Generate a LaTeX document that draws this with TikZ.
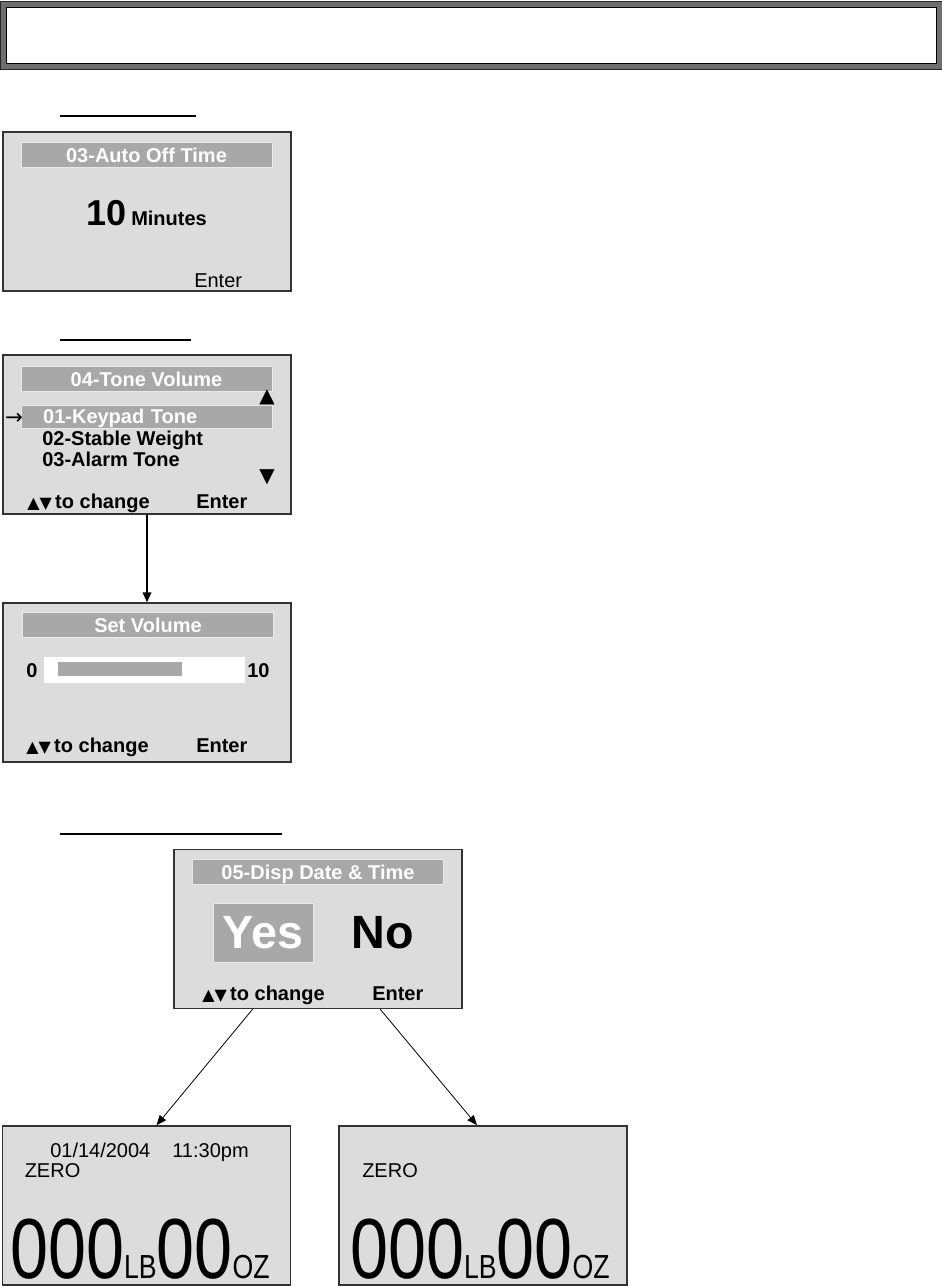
\documentclass[tikz,border=0pt]{standalone}
\usepackage{fontspec}
\setmainfont{Liberation Sans}
\newfontfamily\lcdfont[FakeStretch=0.8]{Liberation Sans}
\newfontfamily\trifont{DejaVu Sans}
\usetikzlibrary{positioning,arrows.meta,calc}
\definecolor{lcd}{HTML}{DCDCDC}
\definecolor{bar}{HTML}{A8A8A8}
\definecolor{frame}{HTML}{333333}
\definecolor{band}{HTML}{6E6E6E}
\newcommand{\updown}{{\trifont\fontsize{12pt}{12pt}\selectfont ▲▼}\hspace{2.5pt}}
\newcommand{\unitsize}{\fontsize{25pt}{25pt}\selectfont}
\tikzset{
  band/.style={rectangle, draw=black!85, line width=0.8pt, fill=band, inner sep=0pt},
  bandin/.style={rectangle, draw=black, line width=0.8pt, fill=white, inner sep=0pt},
  heading/.style={line width=1.1pt, draw=black},
  screen/.style={rectangle, draw=frame, line width=1.1pt, fill=lcd,
                 minimum width=216pt, minimum height=119.25pt, inner sep=0pt},
  titlebar/.style={rectangle, fill=bar, draw=white!75!bar, line width=0.6pt,
                   minimum width=188.25pt, minimum height=18.75pt, inner sep=0pt,
                   text=white, font=\bfseries\fontsize{15pt}{18pt}\selectfont,
                   text height=10.7pt, text depth=0pt},
  selbar/.style={titlebar, minimum height=17.25pt, text width=155pt,
                 align=left, inner xsep=16.5pt},
  item/.style={anchor=base west, inner sep=0pt, font=\bfseries\fontsize{15pt}{18pt}\selectfont},
  plain/.style={anchor=base west, inner sep=0pt, font=\fontsize{15pt}{18pt}\selectfont},
  glyph/.style={inner sep=0pt, font=\trifont\fontsize{15pt}{15pt}\selectfont},
  readout/.style={anchor=base west, inner sep=0pt, font=\lcdfont\fontsize{64pt}{64pt}\selectfont},
  flow/.style={-{Triangle[length=7.5pt,width=6.5pt]}, line width=1.1pt, draw=black},
  thinflow/.style={-{Triangle[length=7.5pt,width=6pt]}, line width=0.6pt, draw=black}
}
\begin{document}
\begin{tikzpicture}[x=0.75pt, y=-0.75pt]
\useasboundingbox (0,0) rectangle (942,1286);

\node[band, minimum width=706.5pt, minimum height=51pt, anchor=north west] (banner) at (0,1) {};
\node[bandin, minimum width=697.5pt, minimum height=42pt] (bannerin) at (banner.center) {};

\draw[heading] (60,116) -- (196,116);
\node[screen] (autooff) at (147,211.5) {};
\node[titlebar] (autotitle) at (146.5,155) {03-Auto Off Time};
\node[item, font=\bfseries\fontsize{27pt}{27pt}\selectfont] (mins) at (86,225) {10};
\node[item] (minunit) at (131,225) {Minutes};
\node[plain] (autoenter) at (194,287) {Enter};

\draw[heading] (60,340) -- (191,340);
\node[screen] (tone) at (147,434.5) {};
\node[titlebar] (tonetitle) at (146.5,379) {04-Tone Volume};
\node[glyph] (toneup) at (267,397) {▲};
\node[selbar] (keypad) at (146.5,416.5) {01-Keypad Tone};
\node[glyph, anchor=base, font=\trifont\fontsize{16pt}{16pt}\selectfont] (pointer) at (14,424) {→};
\node[item] (stable) at (42,445) {02-Stable Weight};
\node[item] (alarm) at (42,466) {03-Alarm Tone};
\node[glyph] (tonedown) at (267,477) {▼};
\node[item] (tonechange) at (27,508) {\updown to change};
\node[item] (toneenter) at (196,508) {Enter};

\node[screen] (setvol) at (147,682.5) {};
\node[titlebar] (voltitle) at (148,625) {Set Volume};
\node[item] (volmin) at (26,677) {0};
\node[rectangle, fill=white, inner sep=0pt, minimum width=150.75pt, minimum height=19.5pt] (track) at (144.5,670) {};
\node[rectangle, fill=bar, inner sep=0pt, minimum width=93pt, minimum height=10.5pt] (level) at (120,669) {};
\node[item] (volmax) at (247,677) {10};
\node[item] (volchange) at (26,752) {\updown to change};
\node[item] (volenter) at (196,752) {Enter};

\draw[heading] (60,834) -- (282,834);
\node[screen] (disp) at (318,929) {};
\node[titlebar] (disptitle) at (318,872) {05-Disp Date \& Time};
\node[rectangle, fill=bar, draw=white!75!bar, line width=0.6pt, inner sep=0pt,
      minimum width=75pt, minimum height=44.25pt, text=white,
      font=\bfseries\fontsize{35pt}{35pt}\selectfont] (yes) at (263,932.5) {Yes};
\node[inner sep=0pt, font=\bfseries\fontsize{35pt}{35pt}\selectfont] (no) at (382.5,933) {No};
\node[item] (dispchange) at (202,1000) {\updown to change};
\node[item] (dispenter) at (372,1000) {Enter};

\node[screen] (dated) at (146.5,1205.5) {};
\node[plain] (stamp) at (50,1157) {01/14/2004\hspace{16.5pt}11:30pm};
\node[plain] (zeroa) at (24.5,1177) {ZERO};
\node[readout] (weighta) at (10,1278) {000{\unitsize LB}00{\unitsize OZ}};

\node[screen] (undated) at (483,1205.5) {};
\node[plain] (zerob) at (362,1177) {ZERO};
\node[readout] (weightb) at (350,1278) {000{\unitsize LB}00{\unitsize OZ}};

\draw[flow] (tone.south) -- (setvol.north);
\draw[thinflow] ($(disp.south west)!0.274!(disp.south east)$) -- ($(dated.north)+(10,0)$);
\draw[thinflow] ($(disp.south west)!0.715!(disp.south east)$) -- ($(undated.north)+(-6,0)$);
\end{tikzpicture}
\end{document}
